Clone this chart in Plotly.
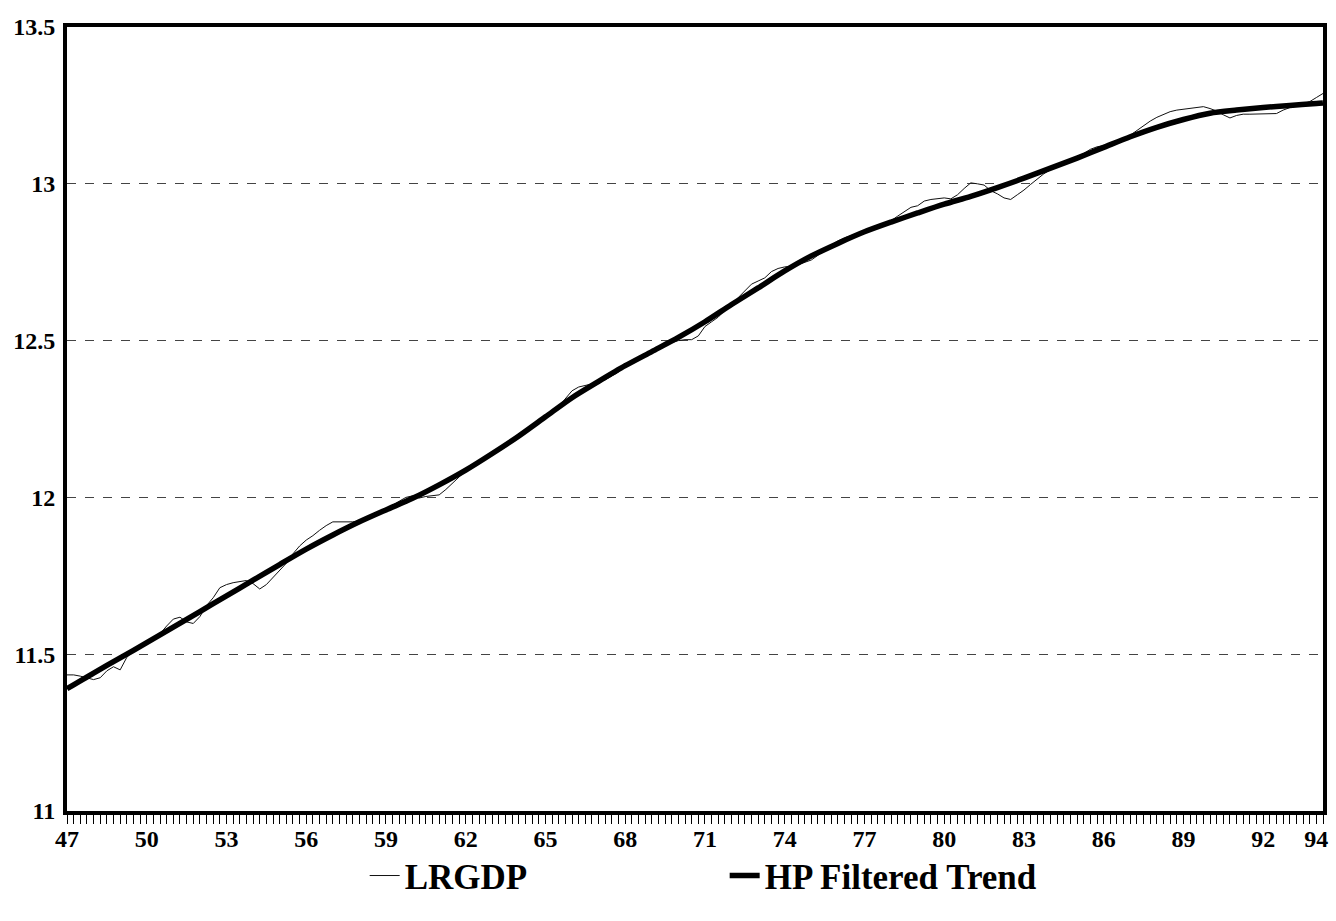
import plotly.graph_objects as go

# Quarterly LRGDP, 1947Q1 .. 1994Q2
lrgdp_start_year = 47
lrgdp = [
    11.434, 11.434, 11.430, 11.424,   # 47
    11.419, 11.425, 11.447, 11.460,   # 48
    11.450, 11.490, 11.510, 11.525,   # 49
    11.535, 11.548, 11.565, 11.590,   # 50
    11.612, 11.618, 11.603, 11.598,   # 51
    11.620, 11.655, 11.680, 11.712,   # 52
    11.722, 11.728, 11.731, 11.735,   # 53
    11.725, 11.708, 11.722, 11.745,   # 54
    11.770, 11.790, 11.820, 11.845,   # 55
    11.864, 11.878, 11.895, 11.910,   # 56
    11.922, 11.922, 11.920, 11.922,   # 57
    11.925, 11.930, 11.942, 11.955,   # 58
    11.965, 11.975, 11.988, 12.000,   # 59
    12.005, 11.998, 12.003, 12.006,   # 60
    12.008, 12.025, 12.045, 12.062,   # 61
    12.085, 12.097, 12.110, 12.122,   # 62
    12.135, 12.148, 12.162, 12.176,   # 63
    12.192, 12.207, 12.222, 12.236,   # 64
    12.255, 12.270, 12.290, 12.315,   # 65
    12.340, 12.352, 12.357, 12.360,   # 66
    12.367, 12.375, 12.387, 12.400,   # 67
    12.418, 12.430, 12.443, 12.455,   # 68
    12.468, 12.478, 12.488, 12.495,   # 69
    12.500, 12.503, 12.503, 12.515,   # 70
    12.545, 12.560, 12.575, 12.597,   # 71
    12.615, 12.637, 12.660, 12.680,   # 72
    12.690, 12.700, 12.720, 12.730,   # 73
    12.735, 12.737, 12.742, 12.750,   # 74
    12.757, 12.772, 12.790, 12.805,   # 75
    12.818, 12.828, 12.835, 12.843,   # 76
    12.850, 12.860, 12.868, 12.875,   # 77
    12.882, 12.897, 12.912, 12.925,   # 78
    12.930, 12.945, 12.950, 12.952,   # 79
    12.955, 12.952, 12.965, 12.985,   # 80
    13.003, 13.000, 12.996, 12.978,   # 81
    12.968, 12.955, 12.950, 12.965,   # 82
    12.980, 12.998, 13.015, 13.032,   # 83
    13.045, 13.058, 13.067, 13.077,   # 84
    13.086, 13.097, 13.110, 13.118,   # 85
    13.122, 13.125, 13.130, 13.140,   # 86
    13.155, 13.170, 13.185, 13.200,   # 87
    13.212, 13.222, 13.230, 13.235,   # 88
    13.238, 13.241, 13.244, 13.246,   # 89
    13.240, 13.232, 13.220, 13.210,   # 90
    13.218, 13.222, 13.222, 13.222,   # 91
    13.222, 13.223, 13.224, 13.235,   # 92
    13.243, 13.248, 13.255, 13.262,   # 93
    13.275, 13.288,                   # 94
]
lrgdp_x = [lrgdp_start_year + i * 0.25 for i in range(len(lrgdp))]

# HP filtered trend, read at the start of each year (plus the last quarter)
trend_x = [47, 48, 49, 50, 51, 52, 53, 54, 55, 56, 57, 58, 59, 60, 61, 62,
           63, 64, 65, 66, 67, 68, 69, 70, 71, 72, 73, 74, 75, 76, 77, 78,
           79, 80, 81, 82, 83, 84, 85, 86, 87, 88, 89, 90, 91, 92, 93, 94, 94.25]
trend = [11.390, 11.440, 11.488, 11.537, 11.586, 11.636, 11.686, 11.736,
         11.786, 11.835, 11.880, 11.922, 11.960, 11.997, 12.040, 12.087,
         12.140, 12.196, 12.257, 12.318, 12.370, 12.420, 12.465, 12.510,
         12.560, 12.615, 12.668, 12.722, 12.770, 12.810, 12.847, 12.878,
         12.907, 12.935, 12.960, 12.988, 13.018, 13.050, 13.082, 13.116,
         13.150, 13.180, 13.205, 13.225, 13.235, 13.243, 13.250, 13.256, 13.258]

tick_vals = [47, 50, 53, 56, 59, 62, 65, 68, 71, 74, 77, 80, 83, 86, 89, 92, 94]
tick_text = ["47", "50", "53", "56", "59", "62", "65", "68", "71", "74",
             "77", "80", "83", "86", "89", "92", "94"]
y_ticks = [11, 11.5, 12, 12.5, 13, 13.5]
y_text = ["11", "11.5", "12", "12.5", "13", "13.5"]

FONT = "Liberation Serif"

fig = go.Figure()
fig.add_trace(go.Scatter(
    x=lrgdp_x, y=lrgdp, mode="lines", name="LRGDP",
    line=dict(color="#111111", width=1),
))
fig.add_trace(go.Scatter(
    x=trend_x, y=trend, mode="lines", name="HP Filtered Trend",
    line=dict(color="black", width=5.5, shape="spline", smoothing=0.8),
))

fig.update_layout(
    width=1336, height=921,
    margin=dict(l=67, r=8, t=27, b=110),
    paper_bgcolor="white", plot_bgcolor="white",
    font=dict(family=FONT, color="black", size=20),
    showlegend=True,
    legend=dict(
        orientation="h", x=0.237, y=-0.045, xanchor="left", yanchor="top",
        font=dict(family=FONT, size=35, color="black", weight="bold"),
        entrywidth=315, entrywidthmode="pixels",
        bgcolor="rgba(0,0,0,0)",
    ),
    xaxis=dict(
        range=[47, 94.25],
        tickmode="array", tickvals=tick_vals, ticktext=tick_text,
        ticks="outside", ticklen=9, tickwidth=1, tickcolor="black",
        minor=dict(dtick=0.25, tick0=47, ticks="outside", ticklen=9,
                   tickwidth=1, tickcolor="black", showgrid=False),
        showgrid=False, zeroline=False,
        showline=True, linecolor="black", linewidth=4, mirror=True,
        tickfont=dict(family=FONT, size=24, color="black", weight="bold"),
        ticklabelstandoff=-6,
    ),
    yaxis=dict(
        range=[11, 13.5],
        tickmode="array", tickvals=y_ticks, ticktext=y_text,
        ticks="", showgrid=True, gridcolor="#444444", gridwidth=1,
        griddash="dash", zeroline=False,
        showline=True, linecolor="black", linewidth=4, mirror=True,
        tickfont=dict(family=FONT, size=24, color="black", weight="bold"),
        ticklabelstandoff=3,
    ),
)

fig.write_html("out.html")
